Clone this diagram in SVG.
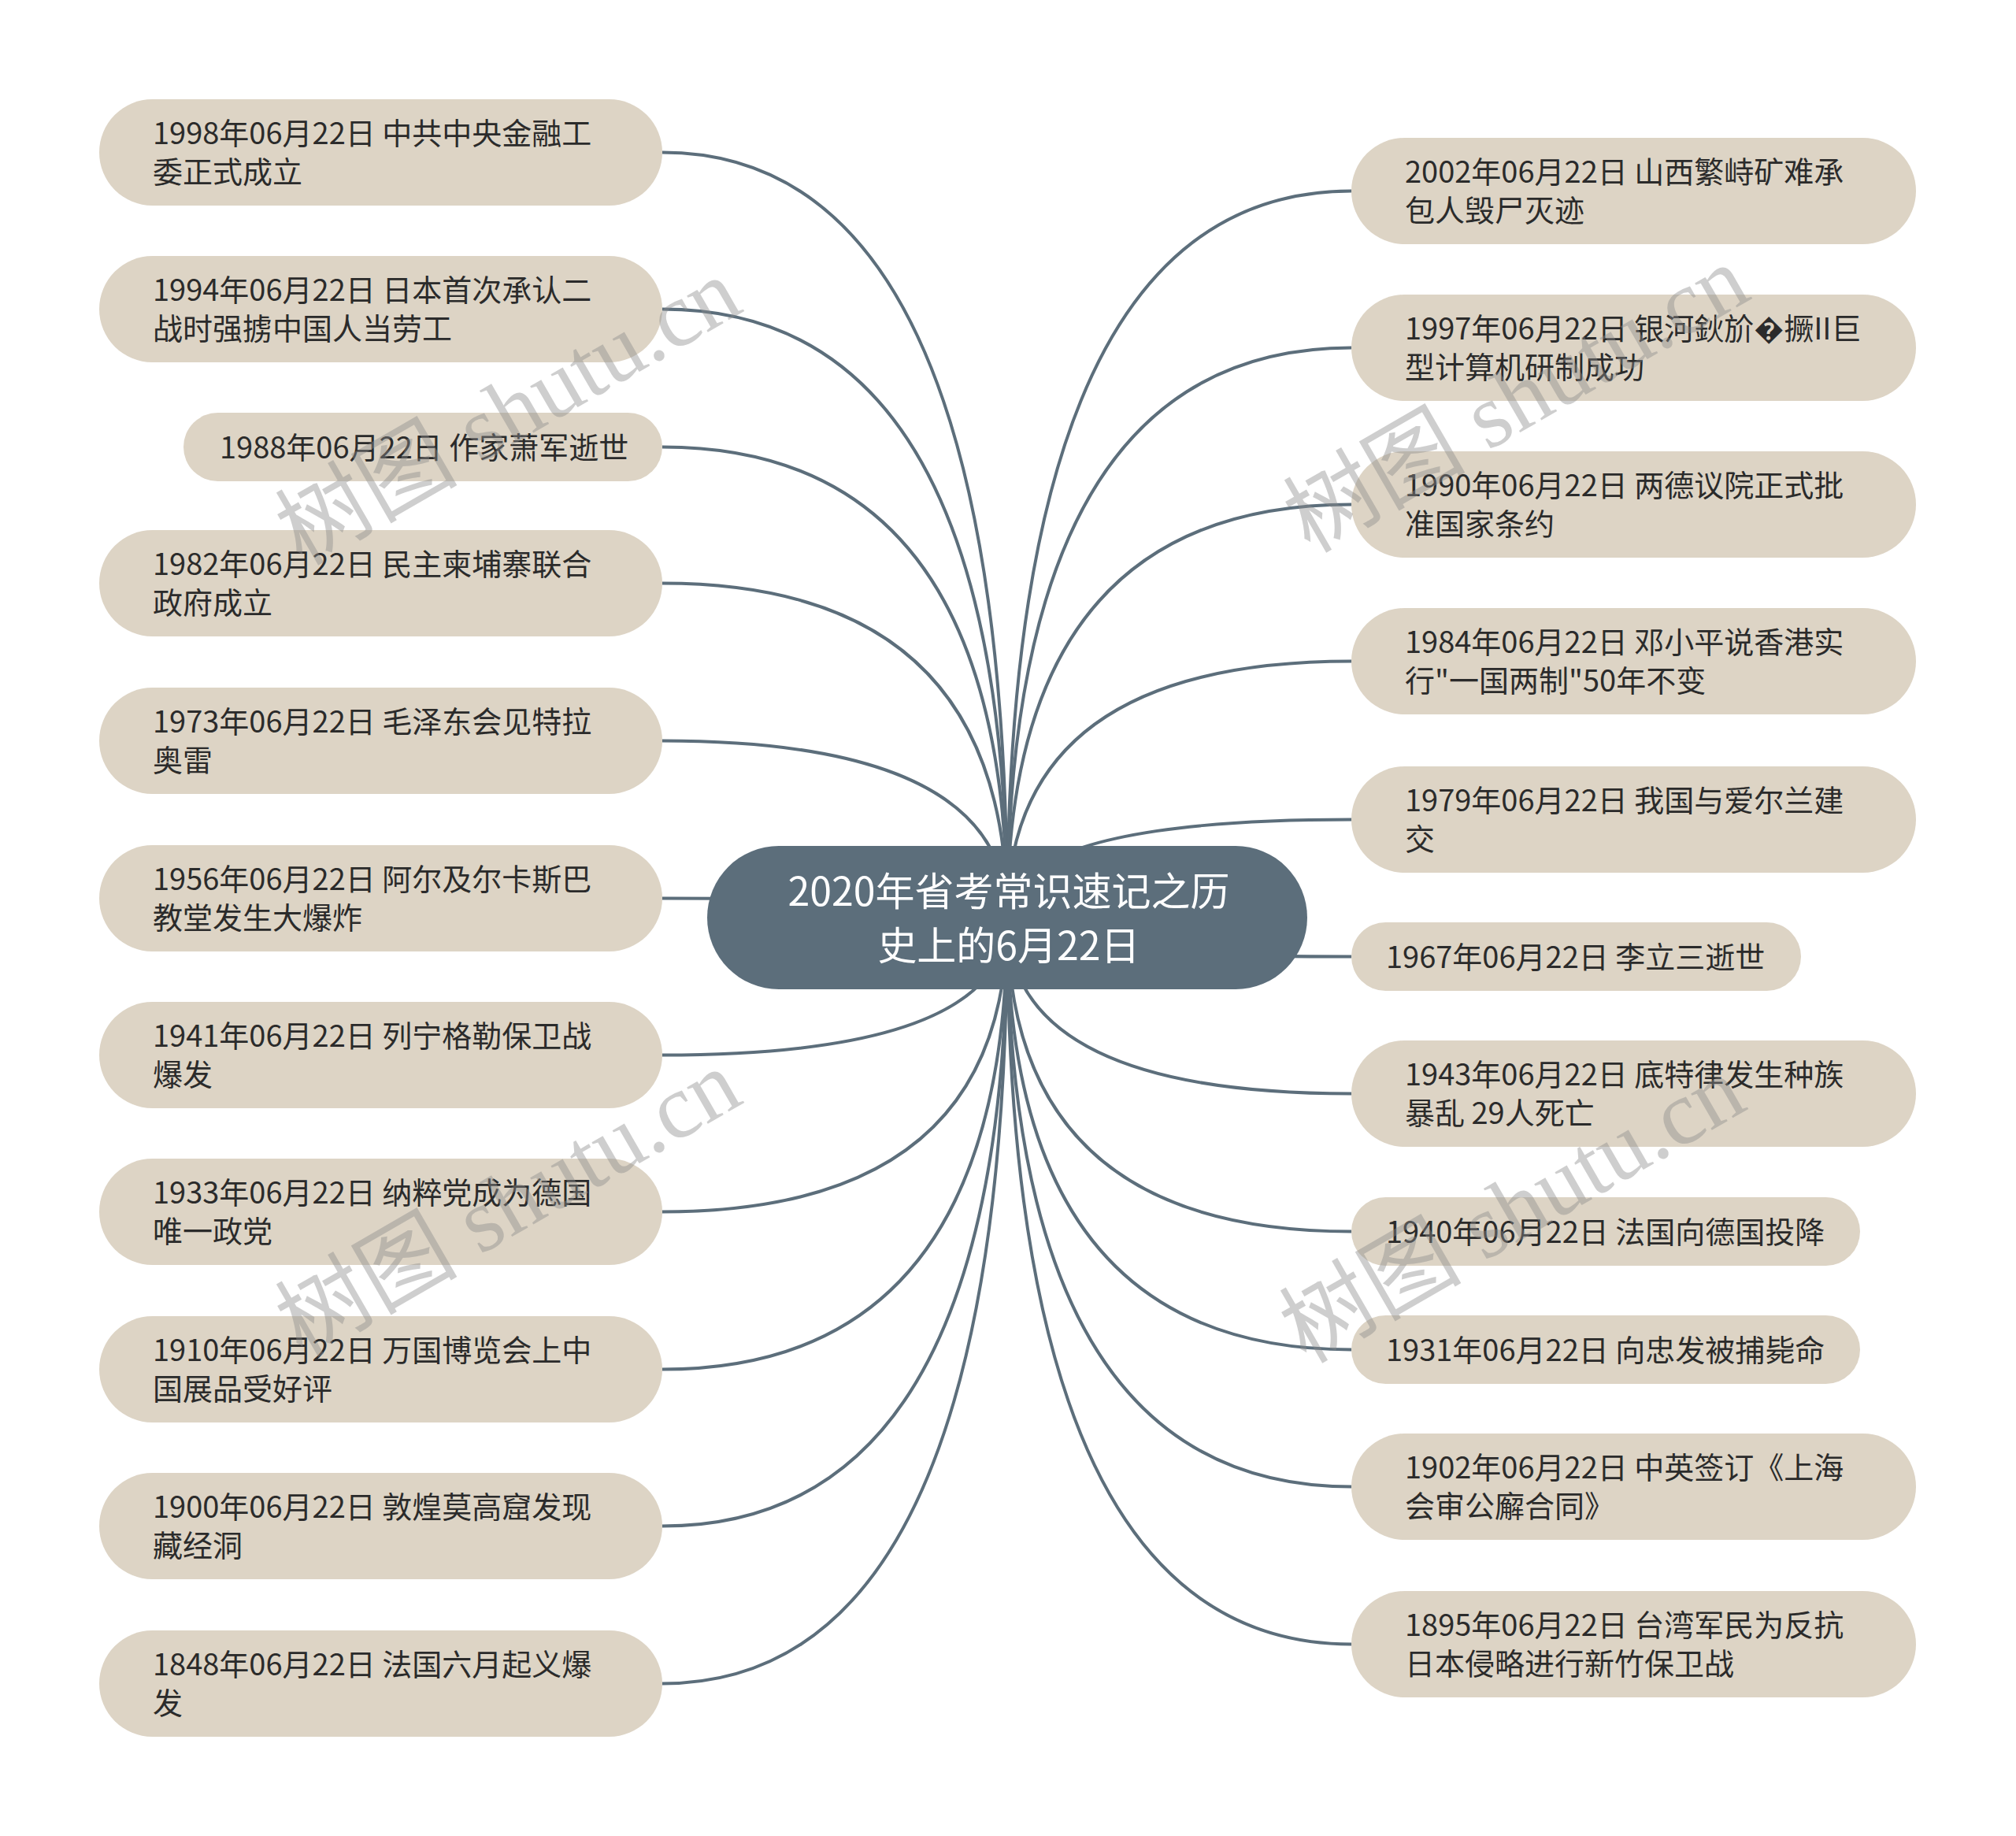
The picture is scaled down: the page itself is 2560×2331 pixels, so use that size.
<svg xmlns="http://www.w3.org/2000/svg" width="2560" height="2331" viewBox="0 0 2560 2331">
<style>
.n{fill:#ddd4c5}
.t{font-family:"Noto Sans CJK SC","Noto Sans",sans-serif;font-size:38px;fill:#2b2b2b}
.ct{font-family:"Noto Sans CJK SC","Noto Sans",sans-serif;font-size:50px;fill:#ffffff}
.c{fill:none;stroke:#5c6e7b;stroke-width:4}
.wm{font-family:"Liberation Serif","Noto Sans CJK SC",serif;font-size:116px;fill:#8c8c8c;opacity:0.42}
</style>
<rect width="2560" height="2331" fill="#ffffff"/>
<g id="connectors">
<path class="c" d="M1279,1165 Q1279,193.5 841,193.5"/>
<path class="c" d="M1279,1165 Q1279,392.5 841,392.5"/>
<path class="c" d="M1279,1165 Q1279,567.5 841,567.5"/>
<path class="c" d="M1279,1165 Q1279,740.5 841,740.5"/>
<path class="c" d="M1279,1165 Q1279,940.5 841,940.5"/>
<path class="c" d="M1279,1165 Q1279,1140.5 841,1140.5"/>
<path class="c" d="M1279,1165 Q1279,1339.5 841,1339.5"/>
<path class="c" d="M1279,1165 Q1279,1538.5 841,1538.5"/>
<path class="c" d="M1279,1165 Q1279,1738.5 841,1738.5"/>
<path class="c" d="M1279,1165 Q1279,1937.5 841,1937.5"/>
<path class="c" d="M1279,1165 Q1279,2137.5 841,2137.5"/>
<path class="c" d="M1279,1165 Q1279,242.5 1716,242.5"/>
<path class="c" d="M1279,1165 Q1279,441.5 1716,441.5"/>
<path class="c" d="M1279,1165 Q1279,640.5 1716,640.5"/>
<path class="c" d="M1279,1165 Q1279,839.5 1716,839.5"/>
<path class="c" d="M1279,1165 Q1279,1040.5 1716,1040.5"/>
<path class="c" d="M1279,1165 Q1279,1214.5 1716,1214.5"/>
<path class="c" d="M1279,1165 Q1279,1388.5 1716,1388.5"/>
<path class="c" d="M1279,1165 Q1279,1563.5 1716,1563.5"/>
<path class="c" d="M1279,1165 Q1279,1713.5 1716,1713.5"/>
<path class="c" d="M1279,1165 Q1279,1887.5 1716,1887.5"/>
<path class="c" d="M1279,1165 Q1279,2087.5 1716,2087.5"/>
</g>
<g id="center">
<rect x="898" y="1074" width="762" height="182" rx="91" fill="#5c6e7b"/>
<text class="ct" x="1281" y="1150" text-anchor="middle">2020年省考常识速记之历</text>
<text class="ct" x="1281" y="1219" text-anchor="middle">史上的6月22日</text>
</g>
<g id="L1"><rect class="n" x="126" y="126" width="715" height="135" rx="67.5"/><text class="t" x="194" y="183">1998年06月22日 中共中央金融工</text><text class="t" x="194" y="232">委正式成立</text></g>
<g id="L2"><rect class="n" x="126" y="325" width="715" height="135" rx="67.5"/><text class="t" x="194" y="382">1994年06月22日 日本首次承认二</text><text class="t" x="194" y="431">战时强掳中国人当劳工</text></g>
<g id="L3"><rect class="n" x="233" y="524" width="608" height="87" rx="43.5"/><text class="t" x="279" y="581.5">1988年06月22日 作家萧军逝世</text></g>
<g id="L4"><rect class="n" x="126" y="673" width="715" height="135" rx="67.5"/><text class="t" x="194" y="730">1982年06月22日 民主柬埔寨联合</text><text class="t" x="194" y="779">政府成立</text></g>
<g id="L5"><rect class="n" x="126" y="873" width="715" height="135" rx="67.5"/><text class="t" x="194" y="930">1973年06月22日 毛泽东会见特拉</text><text class="t" x="194" y="979">奥雷</text></g>
<g id="L6"><rect class="n" x="126" y="1073" width="715" height="135" rx="67.5"/><text class="t" x="194" y="1130">1956年06月22日 阿尔及尔卡斯巴</text><text class="t" x="194" y="1179">教堂发生大爆炸</text></g>
<g id="L7"><rect class="n" x="126" y="1272" width="715" height="135" rx="67.5"/><text class="t" x="194" y="1329">1941年06月22日 列宁格勒保卫战</text><text class="t" x="194" y="1378">爆发</text></g>
<g id="L8"><rect class="n" x="126" y="1471" width="715" height="135" rx="67.5"/><text class="t" x="194" y="1528">1933年06月22日 纳粹党成为德国</text><text class="t" x="194" y="1577">唯一政党</text></g>
<g id="L9"><rect class="n" x="126" y="1671" width="715" height="135" rx="67.5"/><text class="t" x="194" y="1728">1910年06月22日 万国博览会上中</text><text class="t" x="194" y="1777">国展品受好评</text></g>
<g id="L10"><rect class="n" x="126" y="1870" width="715" height="135" rx="67.5"/><text class="t" x="194" y="1927">1900年06月22日 敦煌莫高窟发现</text><text class="t" x="194" y="1976">藏经洞</text></g>
<g id="L11"><rect class="n" x="126" y="2070" width="715" height="135" rx="67.5"/><text class="t" x="194" y="2127">1848年06月22日 法国六月起义爆</text><text class="t" x="194" y="2176">发</text></g>
<g id="R1"><rect class="n" x="1716" y="175" width="717" height="135" rx="67.5"/><text class="t" x="1784" y="232">2002年06月22日 山西繁峙矿难承</text><text class="t" x="1784" y="281">包人毁尸灭迹</text></g>
<g id="R2"><rect class="n" x="1716" y="374" width="717" height="135" rx="67.5"/><text class="t" x="1784" y="431">1997年06月22日 银河鈥斺�撅II巨</text><text class="t" x="1784" y="480">型计算机研制成功</text></g>
<g id="R3"><rect class="n" x="1716" y="573" width="717" height="135" rx="67.5"/><text class="t" x="1784" y="630">1990年06月22日 两德议院正式批</text><text class="t" x="1784" y="679">准国家条约</text></g>
<g id="R4"><rect class="n" x="1716" y="772" width="717" height="135" rx="67.5"/><text class="t" x="1784" y="829">1984年06月22日 邓小平说香港实</text><text class="t" x="1784" y="878">行"一国两制"50年不变</text></g>
<g id="R5"><rect class="n" x="1716" y="973" width="717" height="135" rx="67.5"/><text class="t" x="1784" y="1030">1979年06月22日 我国与爱尔兰建</text><text class="t" x="1784" y="1079">交</text></g>
<g id="R6"><rect class="n" x="1716" y="1171" width="571" height="87" rx="43.5"/><text class="t" x="1760" y="1228.5">1967年06月22日 李立三逝世</text></g>
<g id="R7"><rect class="n" x="1716" y="1321" width="717" height="135" rx="67.5"/><text class="t" x="1784" y="1378">1943年06月22日 底特律发生种族</text><text class="t" x="1784" y="1427">暴乱 29人死亡</text></g>
<g id="R8"><rect class="n" x="1716" y="1520" width="646" height="87" rx="43.5"/><text class="t" x="1760" y="1577.5">1940年06月22日 法国向德国投降</text></g>
<g id="R9"><rect class="n" x="1716" y="1670" width="646" height="87" rx="43.5"/><text class="t" x="1760" y="1727.5">1931年06月22日 向忠发被捕毙命</text></g>
<g id="R10"><rect class="n" x="1716" y="1820" width="717" height="135" rx="67.5"/><text class="t" x="1784" y="1877">1902年06月22日 中英签订《上海</text><text class="t" x="1784" y="1926">会审公廨合同》</text></g>
<g id="R11"><rect class="n" x="1716" y="2020" width="717" height="135" rx="67.5"/><text class="t" x="1784" y="2077">1895年06月22日 台湾军民为反抗</text><text class="t" x="1784" y="2126">日本侵略进行新竹保卫战</text></g>
<g id="watermarks">
<text class="wm" x="645" y="562" text-anchor="middle" transform="rotate(-30 645 522)">树图 shutu.cn</text>
<text class="wm" x="1925" y="546" text-anchor="middle" transform="rotate(-30 1925 506)">树图 shutu.cn</text>
<text class="wm" x="645" y="1567" text-anchor="middle" transform="rotate(-30 645 1527)">树图 shutu.cn</text>
<text class="wm" x="1920" y="1575" text-anchor="middle" transform="rotate(-30 1920 1535)">树图 shutu.cn</text>
</g>
</svg>
